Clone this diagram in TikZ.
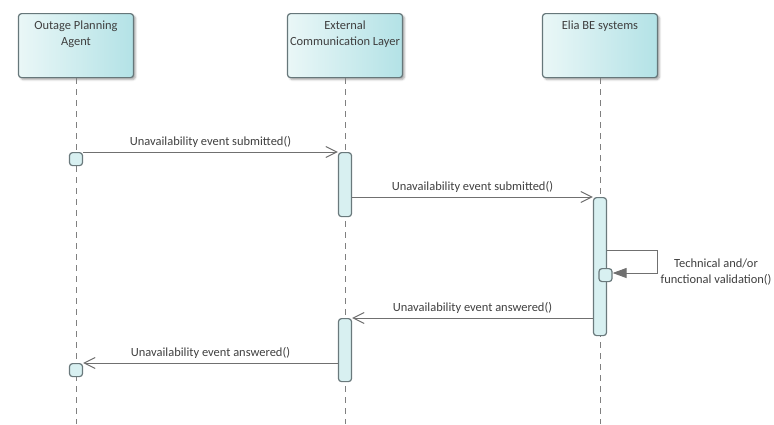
\documentclass[tikz,border=0pt]{standalone}
\usepackage{fontspec}
\setmainfont{Carlito}
\usetikzlibrary{arrows.meta,shadows.blur}

\definecolor{ink}{HTML}{3F3F3F}
\definecolor{boxL}{HTML}{EAF7F7}
\definecolor{boxR}{HTML}{B3E2E6}
\definecolor{boxedge}{HTML}{66777A}
\definecolor{actfill}{HTML}{D8F0F1}
\definecolor{actedge}{HTML}{6A797C}
\definecolor{lifegray}{HTML}{808080}
\definecolor{msggray}{HTML}{707070}

\newcommand\diagfont{\fontsize{12.5}{16}\selectfont}

\tikzset{
  actor/.style={draw=boxedge, line width=1.2bp, rounded corners=3bp,
    left color=boxL, right color=boxR, minimum width=115bp, minimum height=64bp,
    inner sep=0pt, anchor=north,
    blur shadow={shadow xshift=2bp, shadow yshift=-2bp, shadow opacity=35, shadow blur steps=4}},
  actortext/.style={anchor=north, align=center, text=ink, font=\diagfont, inner sep=0pt},
  lifeline/.style={draw=lifegray, line width=1bp, dash pattern=on 6bp off 5bp},
  activation/.style={draw=actedge, fill=actfill, line width=1.2bp, rounded corners=3bp,
    minimum width=13bp, inner sep=0pt, anchor=north},
  execbox/.style={activation, minimum height=13bp},
  msg/.style={draw=msggray, line width=1bp,
    -{Straight Barb[length=11bp, width=11bp, line width=1bp]}},
  selfmsg/.style={draw=msggray, line width=1bp, -{Triangle[length=14bp, width=10bp]}},
  msglabel/.style={text=ink, font=\diagfont, inner sep=0pt, align=center}
}

\begin{document}
\begin{tikzpicture}[x=1bp, y=-1bp]
  \useasboundingbox (0,0) rectangle (774,424);

  % participants
  \node[actor] (opa)  at (76,13)  {};
  \node[actor] (ecl)  at (345,13) {};
  \node[actor] (elia) at (600,13) {};
  \node[actortext] (opa-t)  at ([yshift=-8bp]opa.north)  {Outage Planning\\Agent};
  \node[actortext] (ecl-t)  at ([yshift=-8bp]ecl.north)  {External\\Communication Layer};
  \node[actortext] (elia-t) at ([yshift=-8bp]elia.north) {Elia BE systems};

  % lifelines
  \coordinate (bottom) at (0,424);
  \draw[lifeline] (opa.south)  -- (opa.south |- bottom);
  \draw[lifeline] (ecl.south)  -- (ecl.south |- bottom);
  \draw[lifeline] (elia.south) -- (elia.south |- bottom);

  % activations and execution boxes
  \node[activation, minimum height=64bp]  (ecl1)  at (345,152) {};
  \node[activation, minimum height=138bp] (elia1) at (600,197) {};
  \node[activation, minimum height=63bp]  (ecl2)  at (345,318) {};
  \node[execbox] (opx1)  at (76,152)  {};
  \node[execbox] (selfx) at (605.5,268) {};
  \node[execbox] (opx2)  at (76,363)  {};

  % messages
  \draw[msg] (opx1.north east) -- (ecl1.north west)
    node[msglabel, midway, above=4.5bp] (m1) {Unavailability event submitted()};
  \draw[msg] (ecl1.east |- elia1.north) -- (elia1.north west)
    node[msglabel, midway, above=4.5bp] (m2) {Unavailability event submitted()};

  \coordinate (loopa) at (657,250);
  \coordinate (loopb) at (657,273);
  \draw[selfmsg] (elia1.east |- loopa) -- (loopa) -- (loopb) -- (selfx.east |- loopb);
  \node[msglabel] (m-self) at (716,272) {Technical and/or\\functional validation()};

  \draw[msg] (elia1.west |- ecl2.north) -- (ecl2.north east)
    node[msglabel, midway, above=4.5bp] (m3) {Unavailability event answered()};
  \draw[msg] (ecl2.west |- opx2.north) -- (opx2.north east)
    node[msglabel, midway, above=4.5bp] (m4) {Unavailability event answered()};
\end{tikzpicture}
\end{document}
